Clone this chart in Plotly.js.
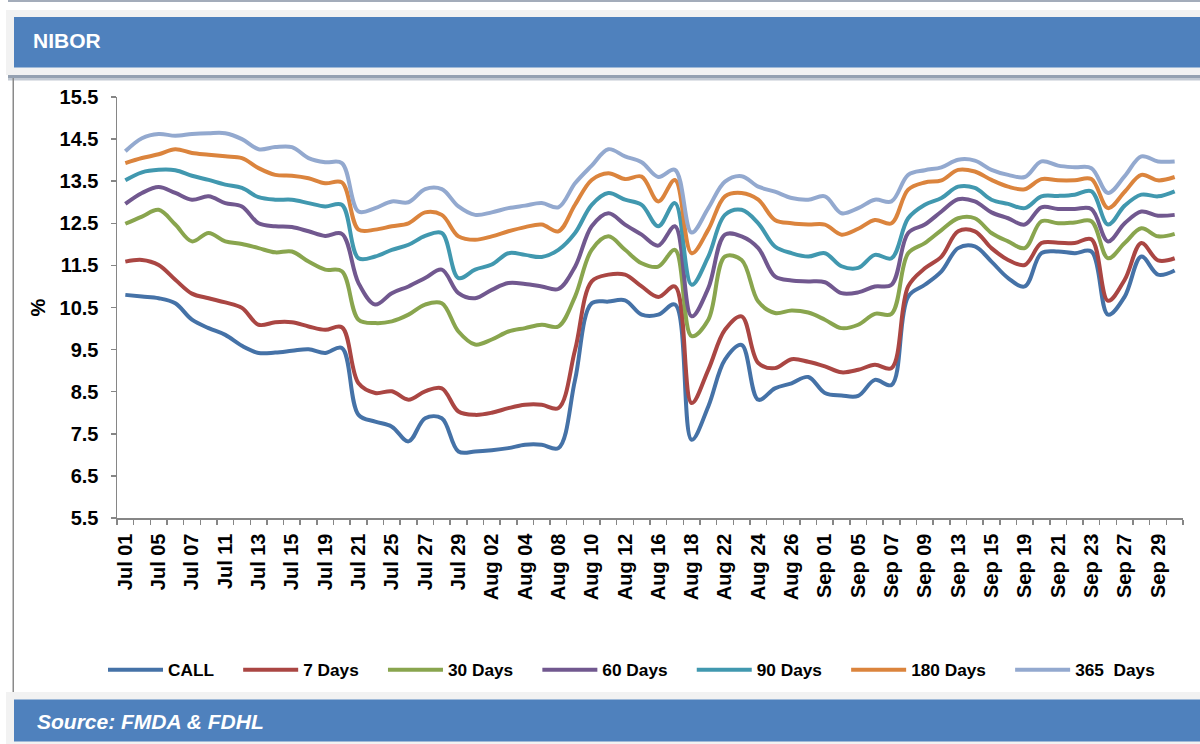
<!DOCTYPE html>
<html>
<head>
<meta charset="utf-8">
<script src="https://cdn.plot.ly/plotly-3.0.1.min.js"></script>
<style>
  html, body { margin: 0; padding: 0; background: #ffffff; }
  #chart { width: 1200px; height: 744px; }
</style>
</head>
<body>
<div id="chart"></div>
<script>
// ---- Data ----
const categories = ["Jul 01","Jul 04","Jul 05","Jul 06","Jul 07","Jul 08","Jul 11","Jul 12","Jul 13","Jul 14","Jul 15","Jul 18","Jul 19","Jul 20","Jul 21","Jul 22","Jul 25","Jul 26","Jul 27","Jul 28","Jul 29","Aug 01","Aug 02","Aug 03","Aug 04","Aug 05","Aug 08","Aug 09","Aug 10","Aug 11","Aug 12","Aug 15","Aug 16","Aug 17","Aug 18","Aug 19","Aug 22","Aug 23","Aug 24","Aug 25","Aug 26","Aug 29","Sep 01","Sep 02","Sep 05","Sep 06","Sep 07","Sep 08","Sep 09","Sep 12","Sep 13","Sep 14","Sep 15","Sep 16","Sep 19","Sep 20","Sep 21","Sep 22","Sep 23","Sep 26","Sep 27","Sep 28","Sep 29","Sep 30"];

const tickLabels = ["Jul 01","Jul 05","Jul 07","Jul 11","Jul 13","Jul 15","Jul 19","Jul 21","Jul 25","Jul 27","Jul 29","Aug 02","Aug 04","Aug 08","Aug 10","Aug 12","Aug 16","Aug 18","Aug 22","Aug 24","Aug 26","Sep 01","Sep 05","Sep 07","Sep 09","Sep 13","Sep 15","Sep 19","Sep 21","Sep 23","Sep 27","Sep 29"];

const seriesNames = ["CALL","7 Days","30 Days","60 Days","90 Days","180 Days","365  Days"];

const call = [10.80,10.76,10.72,10.60,10.21,10.01,9.85,9.59,9.42,9.43,9.47,9.51,9.42,9.54,7.95,7.79,7.67,7.32,7.87,7.87,7.08,7.08,7.11,7.16,7.24,7.24,7.16,8.78,10.60,10.64,10.67,10.33,10.33,10.57,7.36,8.15,9.26,9.61,8.31,8.58,8.70,8.85,8.47,8.41,8.40,8.78,8.66,10.76,11.04,11.36,11.91,11.95,11.59,11.20,11.00,11.79,11.83,11.79,11.83,10.33,10.76,11.71,11.28,11.38];

const days7 = [11.59,11.63,11.51,11.16,10.83,10.72,10.62,10.49,10.09,10.15,10.15,10.05,9.97,10.03,8.70,8.47,8.51,8.31,8.51,8.58,8.03,7.95,8.00,8.11,8.19,8.19,8.11,9.49,11.12,11.28,11.28,11.00,10.75,11.00,8.23,9.02,9.97,10.29,9.18,9.06,9.27,9.21,9.10,8.96,9.02,9.14,9.06,11.00,11.43,11.71,12.31,12.31,11.91,11.63,11.51,12.03,12.04,12.03,12.12,10.66,11.16,12.03,11.62,11.67];

const days30 = [12.49,12.66,12.82,12.47,12.07,12.27,12.07,12.01,11.91,11.81,11.83,11.59,11.40,11.36,10.21,10.13,10.17,10.33,10.57,10.60,9.93,9.62,9.74,9.93,10.01,10.09,10.05,10.76,11.87,12.19,11.87,11.55,11.47,11.87,9.82,10.21,11.71,11.63,10.64,10.37,10.43,10.38,10.21,10.01,10.09,10.35,10.35,11.79,12.03,12.34,12.62,12.62,12.27,12.07,11.91,12.55,12.50,12.52,12.55,11.67,12.03,12.38,12.19,12.25];

const days60 = [12.96,13.22,13.36,13.22,13.06,13.14,12.98,12.90,12.50,12.43,12.41,12.31,12.20,12.25,11.08,10.57,10.84,11.00,11.20,11.40,10.84,10.72,10.92,11.08,11.06,11.00,10.94,11.47,12.43,12.74,12.47,12.23,11.97,12.43,10.29,10.96,12.23,12.19,11.91,11.24,11.14,11.12,11.10,10.84,10.86,11.00,11.04,12.27,12.47,12.78,13.07,13.02,12.76,12.62,12.47,12.88,12.84,12.84,12.84,12.07,12.50,12.78,12.68,12.70];

const days90 = [13.52,13.71,13.77,13.76,13.63,13.53,13.42,13.34,13.12,13.06,13.06,12.98,12.90,12.94,11.67,11.71,11.87,11.99,12.20,12.27,11.20,11.40,11.52,11.79,11.75,11.70,11.87,12.27,12.94,13.22,13.06,12.94,12.43,12.98,11.04,11.71,12.70,12.82,12.50,11.95,11.79,11.71,11.79,11.48,11.44,11.75,11.67,12.62,12.94,13.10,13.37,13.34,13.06,12.96,12.86,13.14,13.15,13.18,13.26,12.47,12.92,13.18,13.14,13.26];

const days180 = [13.93,14.05,14.14,14.26,14.17,14.13,14.09,14.05,13.81,13.65,13.63,13.57,13.45,13.47,12.35,12.35,12.43,12.50,12.76,12.70,12.19,12.11,12.19,12.31,12.41,12.47,12.31,12.94,13.53,13.69,13.55,13.61,13.02,13.53,11.79,12.35,13.14,13.22,13.06,12.58,12.50,12.47,12.47,12.23,12.37,12.58,12.50,13.30,13.47,13.52,13.77,13.73,13.53,13.37,13.31,13.55,13.52,13.52,13.55,12.86,13.25,13.65,13.52,13.60];

const days365 = [14.21,14.52,14.62,14.58,14.62,14.64,14.64,14.50,14.26,14.31,14.31,14.05,13.95,13.93,12.78,12.86,13.02,13.00,13.31,13.31,12.90,12.70,12.76,12.86,12.92,12.98,12.88,13.45,13.87,14.26,14.09,13.95,13.60,13.77,12.28,12.86,13.49,13.62,13.37,13.25,13.10,13.06,13.14,12.74,12.86,13.06,13.02,13.65,13.76,13.83,14.01,13.99,13.77,13.65,13.60,13.97,13.87,13.83,13.81,13.22,13.62,14.09,13.97,13.97];

const yTickVals = [5.5,6.5,7.5,8.5,9.5,10.5,11.5,12.5,13.5,14.5,15.5];

// ---- Styles ----
const seriesValues = [call, days7, days30, days60, days90, days180, days365];
const colors = ["#4572a7","#aa4643","#89a54e","#71588f","#4198af","#db843d","#93a9cf"];
const FONT = "Liberation Sans, Arial, Helvetica, sans-serif";

// plot area in pixels
const W = 1200, H = 744;
const ML = 117, MR = 17, MT = 97, MB = 226;
const PW = W - ML - MR, PH = H - MT - MB;
const PX = px => (px - ML) / PW;
const PY = py => (H - MB - py) / PH;

const nbsp = "\u00a0";
const traces = seriesNames.map((name, i) => ({
  type: "scatter",
  mode: "lines",
  x: categories,
  y: seriesValues[i],
  name: name.replace(/ /g, nbsp) + nbsp.repeat(4),
  line: { color: colors[i], width: 4, shape: "spline", smoothing: 1 },
  hoverinfo: "x+y+name"
}));

const tickText = categories.map(c => tickLabels.includes(c) ? c : "");

function rect(x0, y0, x1, y1, color) {
  return { type: "rect", xref: "paper", yref: "paper", layer: "below",
    x0: PX(x0), x1: PX(x1), y0: PY(y1), y1: PY(y0),
    fillcolor: color, line: { width: 0 } };
}

const shapes = [
  rect(8, 0, 1200, 2, "#a3acba"),
  rect(6, 10, 1200, 75, "#f2f2f2"),
  rect(14, 17, 1200, 67.5, "#4f81bd"),
  rect(8, 75, 1200, 78, "#95a1b1"),
  rect(8, 78, 1200, 80.5, "#c3cad3"),
  rect(12.5, 78, 14, 692, "#8a8a8a"),
  rect(6, 692, 1200, 744, "#f2f2f2"),
  rect(14, 699.5, 1200, 741.5, "#4f81bd")
];

const layout = {
  width: W, height: H,
  margin: { l: ML, r: MR, t: MT, b: MB, pad: 0 },
  paper_bgcolor: "#ffffff",
  plot_bgcolor: "rgba(0,0,0,0)",
  font: { family: FONT, color: "#000000" },
  showlegend: true,
  title: {
    text: "NIBOR",
    font: { family: FONT, size: 21, color: "#ffffff", weight: "bold" },
    x: 33 / W, xref: "container", xanchor: "left",
    y: 1 - 41 / H, yref: "container", yanchor: "middle"
  },
  xaxis: {
    type: "category",
    categoryorder: "array",
    categoryarray: categories,
    tickmode: "array",
    tickvals: categories,
    ticktext: tickText,
    tickson: "boundaries",
    ticks: "outside",
    ticklen: 5,
    tickwidth: 1.5,
    tickcolor: "#868686",
    tickangle: -90,
    ticklabelstandoff: 6,
    tickfont: { family: FONT, size: 20, color: "#000000", weight: "bold" },
    showline: true,
    linecolor: "#868686",
    linewidth: 1.5,
    showgrid: false,
    zeroline: false,
    range: [-0.5, categories.length - 0.5],
    fixedrange: true
  },
  yaxis: {
    range: [5.5, 15.5],
    tickmode: "array",
    tickvals: yTickVals,
    tickformat: ".1f",
    ticks: "outside",
    ticklen: 5,
    tickwidth: 1.5,
    tickcolor: "#868686",
    ticklabelstandoff: 8,
    tickfont: { family: FONT, size: 20, color: "#000000", weight: "bold" },
    showline: true,
    linecolor: "#868686",
    linewidth: 1.5,
    showgrid: false,
    zeroline: false,
    title: { text: "%", font: { family: FONT, size: 20, color: "#000000", weight: "bold" }, standoff: 8 },
    fixedrange: true
  },
  legend: {
    orientation: "h",
    x: PX(103), xanchor: "left",
    y: PY(670), yanchor: "middle",
    itemwidth: 55,
    font: { family: FONT, size: 17.25, color: "#000000", weight: "bold" },
    bgcolor: "rgba(0,0,0,0)",
    borderwidth: 0,
    traceorder: "normal"
  },
  shapes: shapes,
  annotations: [
    {
      xref: "paper", yref: "paper",
      x: PX(35), y: PY(721), xanchor: "left", yanchor: "middle",
      text: "Source: FMDA & FDHL", showarrow: false,
      font: { family: FONT, size: 21, color: "#ffffff", weight: "bold", style: "italic" }
    }
  ]
};

Plotly.newPlot("chart", traces, layout, { displayModeBar: false, staticPlot: true });
</script>
</body>
</html>
